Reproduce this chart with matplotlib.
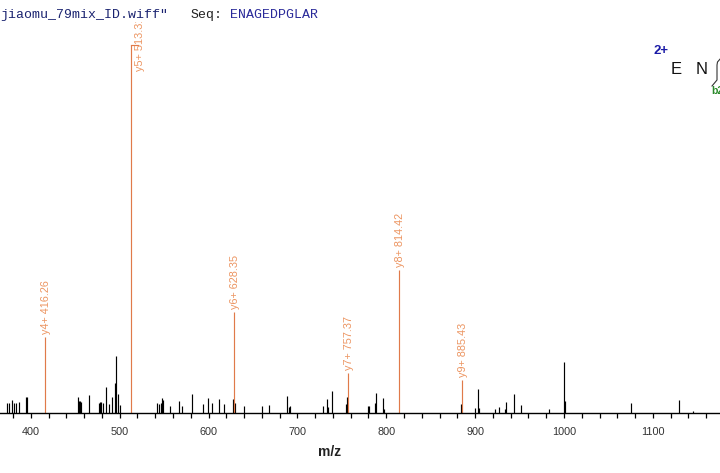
import matplotlib
matplotlib.use("Agg")
import matplotlib.pyplot as plt
from matplotlib.ticker import FixedLocator, FuncFormatter
from matplotlib.lines import Line2D

# ---------------- data ----------------
peak_mz = [373.6, 375.1, 378.5, 381.4, 383.0, 387.1, 394.9, 396.1,
           453.5, 454.6, 455.7, 456.8, 465.8, 476.4, 477.5, 478.7, 481.6,
           485.0, 488.3, 491.7, 495.1, 496.2, 498.5, 500.7,
           542.4, 543.9, 546.2, 547.3, 548.4, 557.0, 566.4, 569.8, 581.7,
           594.1, 599.8, 604.3, 612.1, 617.8, 627.9, 629.8, 640.3, 660.5,
           668.4, 688.7, 690.2, 691.7, 728.5, 733.7, 734.8, 739.3, 755.1,
           756.2, 779.8, 780.9, 787.7, 788.8, 796.4, 797.5, 884.5, 900.2,
           903.6, 904.7, 922.7, 927.2, 934.0, 935.1, 944.1, 952.0, 983.5,
           1000.3, 1001.4, 1075.8, 1129.7, 1145.5]
peak_int = [2.9, 2.9, 3.6, 2.7, 2.9, 3.1, 4.4, 4.3,
            4.4, 3.4, 3.3, 3.2, 5.1, 2.7, 3.0, 3.2, 2.9,
            7.2, 2.5, 4.3, 8.3, 15.6, 5.3, 2.3,
            2.9, 2.5, 2.7, 4.1, 3.6, 2.0, 3.3, 2.0, 5.3,
            2.5, 4.2, 2.9, 3.9, 2.5, 3.9, 2.9, 2.0, 2.0,
            2.3, 4.7, 1.8, 2.0, 2.0, 3.9, 1.7, 6.1, 2.5,
            4.4, 2.0, 2.0, 2.9, 5.5, 4.2, 1.2, 2.6, 1.4,
            6.6, 1.4, 1.2, 1.7, 1.2, 3.1, 5.3, 2.3, 1.2,
            13.9, 3.3, 2.8, 3.6, 0.6]

ion_names = ["y3+", "y4+", "y5+", "y6+", "y7+", "y8+", "y9+"]
ion_mz = [359.24, 416.26, 513.31, 628.35, 757.37, 814.42, 885.43]
ion_int = [25.0, 20.8, 100.0, 27.6, 10.9, 38.9, 9.0]

tick_values = list(range(360, 1181, 20))
tick_label_values = [400, 500, 600, 700, 800, 900, 1000, 1100]

title_file = 'jiaomu_79mix_ID.wiff"'
title_seq_label = "Seq:"
title_seq = "ENAGEDPGLAR"
xlabel = "m/z"

# ---------------- figure ----------------
W, H = 720, 473
fig = plt.figure(figsize=(7.2, 4.73), dpi=100)
base_y = 413.3
top_y = 22.0
ax = fig.add_axes([0, (H - base_y) / H, 1, (base_y - top_y) / H])
px_per_da = 0.8886
x400 = 30.8
xmin = 400 - x400 / px_per_da
xmax = 400 + (W - x400) / px_per_da
ax.set_xlim(xmin, xmax)
ax.set_ylim(0, (base_y - top_y) / 368.3 * 100)

ax.vlines(peak_mz, 0, peak_int, colors="black", linewidth=0.85)

line_col = "#e07a4a"
text_col = "#ec9460"
ax.vlines(ion_mz, 0, ion_int, colors=line_col, linewidth=0.85, clip_on=False)
for name, mz, it in zip(ion_names, ion_mz, ion_int):
    label = f"{name} {mz:.2f}"
    if it > 80:
        # label placed beside the top of the line
        d = 7.0 / px_per_da
        ax.plot([mz, mz + d], [it, it], color=line_col, lw=0.85)
        ax.annotate(label, xy=(mz, it), xytext=(6.0, -19.0),
                    textcoords="offset points", rotation=90,
                    ha="center", va="bottom", color=text_col,
                    fontsize=7.8, family="Liberation Sans", clip_on=True,
                    annotation_clip=False)
    else:
        ax.annotate(label, xy=(mz, it), xytext=(0.6, 2.2),
                    textcoords="offset points", rotation=90,
                    ha="center", va="bottom", color=text_col,
                    fontsize=7.8, family="Liberation Sans",
                    annotation_clip=False)

for s in ["left", "top", "right"]:
    ax.spines[s].set_visible(False)
ax.spines["bottom"].set_linewidth(1.0)
ax.set_yticks([])
ax.xaxis.set_major_locator(FixedLocator(tick_values))
ax.xaxis.set_major_formatter(FuncFormatter(
    lambda v, p: f"{int(round(v))}" if int(round(v)) in tick_label_values else ""))
ax.tick_params(axis="x", direction="out", length=3.6, width=0.9, pad=6.5,
               labelsize=7.8, labelcolor="#333333", color="black")
for lab in ax.get_xticklabels():
    lab.set_family("Liberation Sans")

fig.text(330 / W, 1 - 452 / H, xlabel, ha="center", va="center",
         fontsize=10, fontweight="bold", family="Liberation Sans", color="#222222")

# title line (monospace)
cw = 7.9
fy = 1 - 15 / H
fig.text(0.5 / W, fy, title_file, ha="left", va="center", fontsize=9.5,
         family="Liberation Mono", color="#1a2370")
fig.text((0.5 + 24 * cw) / W, fy, title_seq_label, ha="left", va="center",
         fontsize=9.5, family="Liberation Mono", color="#222222")
fig.text((0.5 + 29 * cw) / W, fy, title_seq, ha="left", va="center",
         fontsize=9.5, family="Liberation Mono", color="#2a2a9a")

# fragment map corner
fig.text(661 / W, 1 - 51 / H, "2+", ha="center", va="center", fontsize=9.5,
         fontweight="bold", family="Liberation Sans", color="#1a1aa6")
fig.text(676.5 / W, 1 - 70 / H, "E", ha="center", va="center", fontsize=12,
         family="Liberation Sans", color="#111111")
fig.text(701.5 / W, 1 - 70 / H, "N", ha="center", va="center", fontsize=12,
         family="Liberation Sans", color="#111111")
bx = [721, 717.5, 717, 717, 712]
by = [58, 62, 65, 80, 86]
fig.add_artist(Line2D([x / W for x in bx], [1 - y / H for y in by],
                      color="#333333", lw=0.8, transform=fig.transFigure))
fig.text(711 / W, 1 - 91 / H, "b2", ha="left", va="center", fontsize=7.5,
         fontweight="bold", family="Liberation Sans", color="#2a8a2a")

fig.savefig("out.png", dpi=100)
